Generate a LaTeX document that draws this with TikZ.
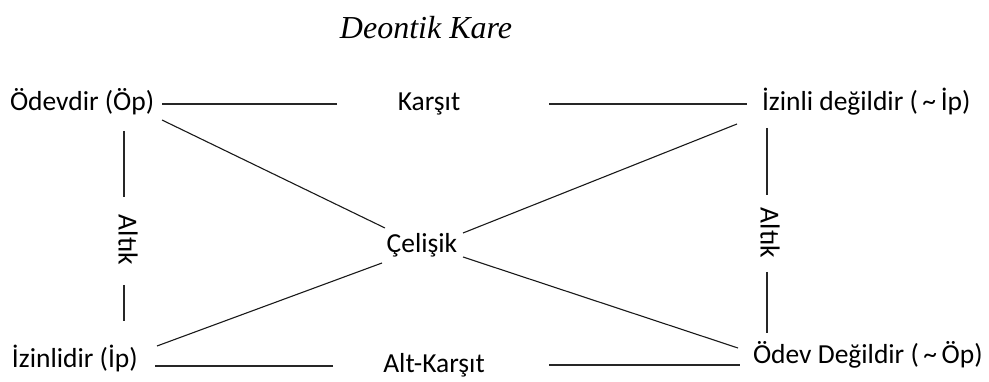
\documentclass[tikz,border=0pt]{standalone}
\usepackage{fontspec}
\setmainfont{Carlito}
\newfontfamily\titlefont{Liberation Serif}
\begin{document}
\begin{tikzpicture}[x=1pt,y=-1pt,
  lbl/.style={inner sep=0pt, outer sep=0pt, font=\fontsize{27.5}{30}\selectfont, text height=19pt, text depth=6pt},
  conn/.style={draw=black!85, line width=1.6pt},
  diag/.style={draw=black!90, line width=1.1pt}]
\useasboundingbox (0,0) rectangle (989,382);
\node[font=\titlefont\itshape\fontsize{32}{36}\selectfont] (title) at (426,28) {Deontik Kare};
\node[lbl, anchor=west] (op) at (10,104) {Ödevdir (Öp)};
\node[lbl, anchor=west] (izd) at (762,104) {İzinli değildir (\,\textasciitilde\,İp)};
\node[lbl, anchor=west] (ip) at (12,361) {İzinlidir (İp)};
\node[lbl, anchor=west] (odd) at (753,357) {Ödev Değildir (\,\textasciitilde\,Öp)};
\node[lbl] (karsit) at (429,104) {Karşıt};
\node[lbl] (altkarsit) at (434,366) {Alt-Karşıt};
\node[lbl] (celisik) at (422,246) {Çelişik};
\node[lbl, rotate=-90] (altikl) at (125,240) {Altık};
\node[lbl, rotate=-90] (altikr) at (767,233) {Altık};
% coordinates for line ends
\coordinate (t1) at (337,104); \coordinate (t2) at (549,104);
\coordinate (b1) at (333,366); \coordinate (b2) at (549,365);
\coordinate (l1) at (124,131); \coordinate (l2) at (124,197);
\coordinate (l3) at (124,285); \coordinate (l4) at (124,321);
\coordinate (r1) at (767,128); \coordinate (r2) at (767,195);
\coordinate (r3) at (767,272); \coordinate (r4) at (767,333);
\coordinate (d1) at (162,120); \coordinate (d2) at (385,228);
\coordinate (d3) at (463,257); \coordinate (d4) at (738,348);
\coordinate (e1) at (157,346); \coordinate (e2) at (382,263);
\coordinate (e3) at (463,233); \coordinate (e4) at (737,124);
\draw[conn] (t1) -- (op.east -| 162,0);
\draw[conn] (t2) -- (izd.west -| 747,0);
\draw[conn] (b1) -- (155,366);
\draw[conn] (b2) -- (740,365);
\draw[conn] (l1) -- (l2); \draw[conn] (l3) -- (l4);
\draw[conn] (r1) -- (r2); \draw[conn] (r3) -- (r4);
\draw[diag] (d1) -- (d2); \draw[diag] (d3) -- (d4);
\draw[diag] (e1) -- (e2); \draw[diag] (e3) -- (e4);
\end{tikzpicture}
\end{document}
